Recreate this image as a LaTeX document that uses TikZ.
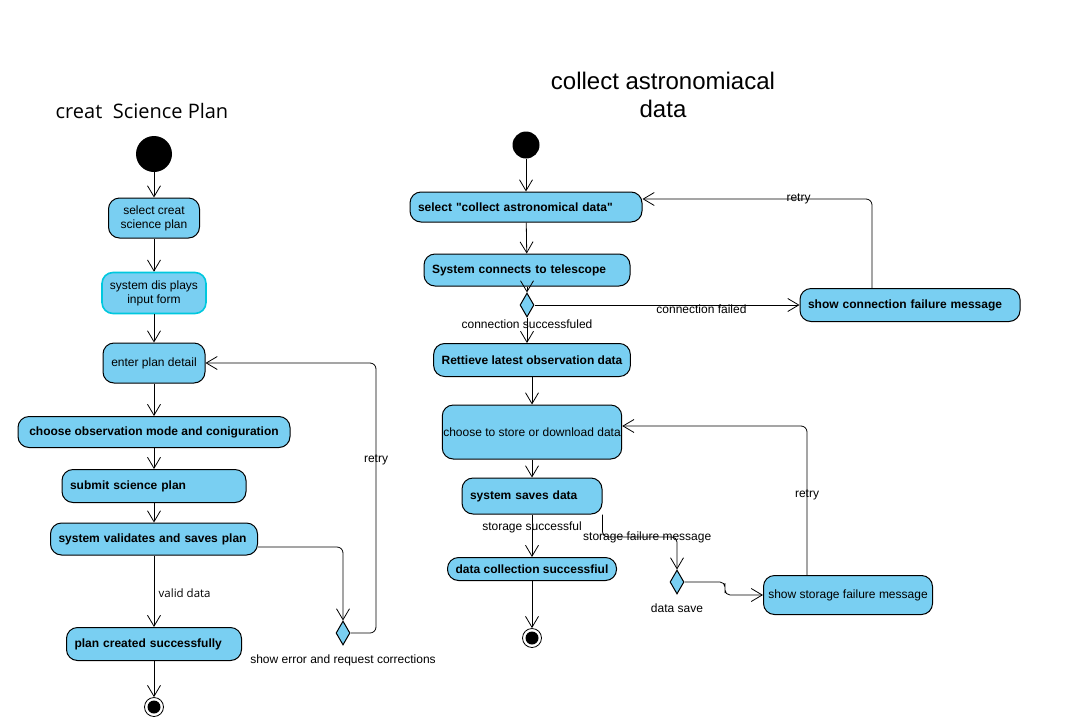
\documentclass[tikz,border=0pt]{standalone}
\usepackage{fontspec}
\setmainfont{Liberation Sans}[Ligatures=TeXOff]
\newfontfamily\titlefont{Open Sans}
\usepackage{xcolor}
\usetikzlibrary{arrows.meta,positioning,shapes.geometric}
\definecolor{actblue}{RGB}{121,207,242}
\definecolor{selcyan}{RGB}{0,200,222}

\begin{document}
\begin{tikzpicture}[x=1pt,y=-1pt,>={Straight Barb[length=11pt,width=13pt]},
  font=\fontsize{12}{14}\selectfont,line width=0.8pt,
  act/.style={draw,fill=actblue,rounded corners=11pt,line width=1pt,inner xsep=8pt,inner ysep=2pt},
  actb/.style={act,font=\fontsize{12}{14}\selectfont\bfseries,align=left},
  dec/.style={draw,diamond,fill=actblue,inner sep=0pt,minimum width=14pt,minimum height=24pt,line width=1pt},
  start/.style={circle,fill=black,inner sep=0pt},
  final/.style={circle,draw,fill=white,minimum size=19pt,inner sep=0pt,
    path picture={\fill[black] (path picture bounding box.center) circle (6.5pt);}},
  lbl/.style={inner sep=1pt}]
\useasboundingbox (0,0) rectangle (1065,726);

% creat science plan
\node[font=\titlefont\fontsize{20}{24}\selectfont] (t1) at (142,111) {creat\ \ Science Plan};
\node[start,minimum size=36pt] (s1) at (154,154) {};
\node[act,align=center,minimum width=91pt,minimum height=40pt] (a1) at (154,218) {select creat\\science plan};
\node[act,draw=selcyan,line width=1.6pt,align=center,minimum width=96pt,minimum height=41pt] (a2) at (154,293) {system dis plays\\input form};
\node[act,minimum width=102pt,minimum height=40pt] (a3) at (154,363) {enter plan detail};
\node[actb,minimum width=272pt,minimum height=31pt] (a4) at (154,432) {choose observation mode and coniguration};
\node[actb,text width=168pt,minimum height=33pt] (a5) at (154,486) {submit science plan};
\node[actb,text width=191pt,minimum height=32pt] (a6) at (154,539) {system validates and saves plan};
\node[actb,text width=159pt,minimum height=33pt] (a7) at (154,644) {plan created successfully};
\node[final] (e1) at (154,707) {};
\node[dec,label={[label distance=6pt]below:show error and request corrections}] (d1) at (343,633) {};

\draw[->] (s1) -- (a1);
\draw[->] (a1) -- (a2);
\draw[->] (a2) -- (a3);
\draw[->] (a3) -- (a4);
\draw[->] (a4) -- (a5);
\draw[->] (a5) -- (a6);
\draw[->] (a6) -- node[pos=0.53,right,xshift=1pt,font=\titlefont\fontsize{11.5}{13}\selectfont]{valid data} (a7);
\draw[->] (a7) -- (e1);
\draw[->,rounded corners=6pt] ([yshift=-8pt]a6.east) -| (d1.north);
\coordinate (r1) at (376,363);
\draw[->,rounded corners=6pt] (d1.east) -| node[pos=0.82,lbl]{retry} (r1) -- (a3.east);

% collect astronomical data
\node[font=\fontsize{24}{28}\selectfont,align=center] (t2) at (663,95) {collect astronomiacal\\data};
\node[start,minimum size=27pt] (s2) at (526,145) {};
\node[actb,text width=216pt,minimum height=30pt] (b1) at (526,207) {select "collect astronomical data"};
\node[actb,text width=190pt,minimum height=32pt] (b2) at (527,270) {System connects to telescope};
\node[dec] (d2) at (527,305) {};
\node[actb,minimum width=195pt,minimum height=33pt] (b3) at (532,360) {Rettieve latest observation data};
\node[actb,text width=204pt,minimum height=33pt] (b4) at (910,305) {show connection failure message};
\node[act,minimum width=178pt,minimum height=54pt,inner xsep=1pt] (b5) at (532,432) {choose to store or download data};
\node[actb,text width=124pt,minimum height=36pt] (b6) at (532,496) {system saves data};
\node[actb,minimum width=169pt,minimum height=23pt] (b7) at (532,569) {data collection successfiul};
\node[final] (e2) at (532,638) {};
\node[dec,label={[label distance=6pt]below:data save}] (d3) at (677,582) {};
\node[act,minimum width=169pt,minimum height=39pt,inner xsep=2pt] (b8) at (848,595) {show storage failure message};

\draw[->] (s2) -- (b1);
\draw[->] (b1) -- (b2);
\draw[->] (b2) -- (d2);
\draw[->] (d2.south) -- node[pos=0.25,lbl]{connection successfuled} (d2.south |- b3.north);
\draw[->] (d2) -- node[pos=0.63,below=-2pt,lbl]{connection failed} (b4);
\coordinate (r2) at (872,199);
\draw[->,rounded corners=6pt] (b4.north -| r2) |- node[pos=0.66,lbl]{retry} (b1.east |- r2);
\draw[->] (b3) -- (b5);
\draw[->] (b5) -- (b6);
\draw[->] (b6) -- node[pos=0.3,lbl]{storage successful} (b7);
\draw[->] (b7) -- (e2);
\coordinate (k1) at (677,537);
\draw[->,rounded corners=5pt] (b6.south east) |- node[pos=0.8,lbl]{storage failure message} (k1) -- (d3.north);
\coordinate (k2) at (725,588);
\draw[->,rounded corners=5pt] (d3.east) -| (k2) |- (b8.west);
\coordinate (r3) at (807,426);
\draw[->,rounded corners=6pt] (b8.north -| r3) |- node[pos=0.27,lbl]{retry} (b5.east |- r3);
\end{tikzpicture}
\end{document}
